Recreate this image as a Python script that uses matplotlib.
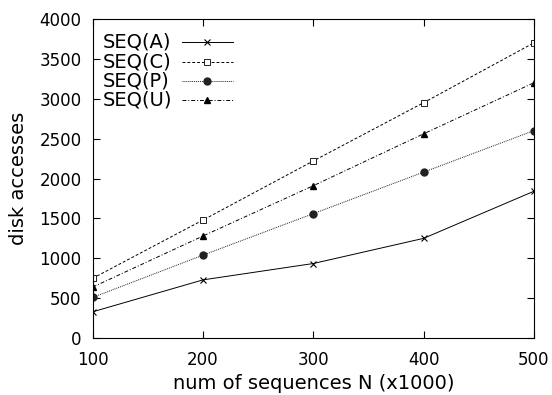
import matplotlib
matplotlib.use('Agg')
import matplotlib.pyplot as plt

plt.rcParams['font.family'] = ['DejaVu Sans']

# Data
n_seq = [100, 200, 300, 400, 500]
seq_a = [330, 730, 935, 1250, 1840]
seq_c = [750, 1480, 2220, 2950, 3700]
seq_p = [510, 1040, 1560, 2080, 2600]
seq_u = [640, 1280, 1910, 2560, 3200]

labels = ['SEQ(A)', 'SEQ(C)', 'SEQ(P)', 'SEQ(U)']
series = [seq_a, seq_c, seq_p, seq_u]
styles = [
    dict(color='black', ls='-', marker='x', ms=4, mew=0.8),
    dict(color='black', ls=(0, (3, 2)), marker='s', ms=4.5, mfc='white', mew=0.6),
    dict(color='#222222', ls=(0, (1, 1)), marker='o', ms=5),
    dict(color='black', ls=(0, (4, 2, 1, 2)), marker='^', ms=4),
]

fig = plt.figure(figsize=(5.52, 3.95), dpi=100)
ax = fig.add_axes([0.168, 0.144, 0.799, 0.808])

for vals, st in zip(series, styles):
    ax.plot(n_seq, vals, lw=0.7, **st)

# gnuplot-style key: left-aligned text, then the line sample
row_y = [0.928, 0.865, 0.806, 0.746]
for lab, st, y in zip(labels, styles, row_y):
    ax.text(0.023, y, lab, transform=ax.transAxes, fontsize=14, ha='left', va='center')
    ax.plot([0.202, 0.317], [y, y], transform=ax.transAxes, lw=0.7,
            color=st['color'], ls=st['ls'])
    mk = {k: v for k, v in st.items() if k != 'ls'}
    ax.plot([0.259], [y], transform=ax.transAxes, ls='none', **mk)

ax.set_xlim(100, 500)
ax.set_ylim(0, 4000)
ax.set_xticks(n_seq)
ax.set_yticks(range(0, 4001, 500))
ax.tick_params(direction='in', top=True, right=True, labelsize=12, length=5, width=0.8)
ax.tick_params(axis='x', pad=9)
ax.tick_params(axis='y', pad=8)
for s in ax.spines.values():
    s.set_linewidth(0.8)

ax.set_xlabel('num of sequences N (x1000)', fontsize=14, labelpad=4)
ax.set_ylabel('disk accesses', fontsize=14, labelpad=8)

fig.savefig('out.png', dpi=100)
